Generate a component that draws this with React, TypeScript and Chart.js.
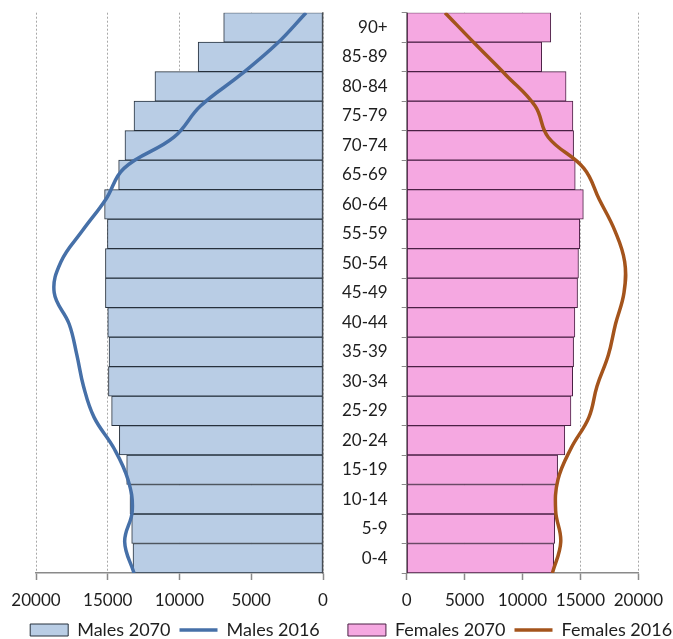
import React, { useEffect, useRef } from 'react';
import { Chart, registerables } from 'chart.js';

Chart.register(...registerables);

// ---- Data (bottom to top) ----
const ageGroups = ['0-4', '5-9', '10-14', '15-19', '20-24', '25-29', '30-34', '35-39', '40-44', '45-49', '50-54', '55-59', '60-64', '65-69', '70-74', '75-79', '80-84', '85-89', '90+'];
const males2070 = [13240, 13330, 13450, 13680, 14190, 14730, 14950, 14910, 15000, 15160, 15160, 15020, 15220, 14240, 13800, 13170, 11710, 8700, 6920];
const males2016 = [13170, 13820, 13290, 13590, 14560, 15950, 16690, 17150, 17690, 18730, 18260, 16760, 15140, 13870, 10390, 8540, 5760, 3220, 1180];
const females2070 = [12690, 12780, 12920, 13030, 13650, 14180, 14330, 14410, 14520, 14750, 14830, 14940, 15250, 14550, 14410, 14350, 13760, 11655, 12440];
const females2016 = [12580, 13300, 12860, 13060, 14180, 15730, 16430, 17410, 18030, 18760, 18820, 17970, 16630, 15300, 12220, 11090, 8560, 5900, 3310];
const seriesNames = ['Males 2070', 'Males 2016', 'Females 2070', 'Females 2016'];
const axisMin = 0;
const axisMax = 20000;
const axisStep = 5000;

// ---- Styles ----
const FONT = 'Lato';
const TEXT = '#1e1e1e';
const AXIS = '#8a8a8a';
const GRID = '#a8a8a8';
const MALE_FILL = '#b9cde5';
const MALE_EDGE = '#26303c';
const MALE_LINE = '#4670a8';
const FEMALE_FILL = '#f5a8e1';
const FEMALE_EDGE = '#4a2044';
const FEMALE_LINE = '#a4541c';

const CANVAS_H = 650;

function legendOptions() {
  return {
    position: 'bottom' as const,
    labels: {
      usePointStyle: true,
      pointStyleWidth: 38,
      boxHeight: 12,
      padding: 9,
      color: TEXT,
      font: { family: FONT, size: 18 },
      sort: (a: any, b: any) => a.datasetIndex - b.datasetIndex,
      generateLabels: (chart: any) =>
        Chart.defaults.plugins.legend.labels
          .generateLabels(chart)
          .map((item: any) => ({ ...item, pointStyle: item.datasetIndex === 0 ? 'rect' : 'line' })),
    },
  };
}

function xScale(reverse: boolean) {
  return {
    type: 'linear' as const,
    reverse,
    min: axisMin,
    max: axisMax,
    ticks: {
      stepSize: axisStep,
      color: TEXT,
      font: { family: FONT, size: 17 },
      padding: 10,
      maxRotation: 0,
      callback: (v: any) => String(v),
    },
    grid: { color: GRID, lineWidth: 1, tickLength: 7, tickColor: AXIS, tickWidth: 1.5 },
    border: { display: true, color: AXIS, width: 1.5, dash: [2, 2] },
    afterFit: (s: any) => {
      s.height = 39;
    },
  };
}

function makeConfig(side: 'left' | 'right') {
  const isLeft = side === 'left';
  const bars = isLeft ? males2070 : females2070;
  const line = isLeft ? males2016 : females2016;
  return {
    type: 'bar' as const,
    data: {
      labels: ageGroups,
      datasets: [
        {
          type: 'bar' as const,
          label: isLeft ? seriesNames[0] : seriesNames[2],
          data: bars,
          backgroundColor: isLeft ? MALE_FILL : FEMALE_FILL,
          borderColor: isLeft ? MALE_EDGE : FEMALE_EDGE,
          borderWidth: 1,
          borderSkipped: false,
          barPercentage: 1,
          categoryPercentage: 1,
          grouped: false,
          xAxisID: 'x',
          yAxisID: 'y',
          order: 2,
        },
        {
          type: 'line' as const,
          label: isLeft ? seriesNames[1] : seriesNames[3],
          data: line.map((v, i) => ({ x: v, y: i })),
          borderColor: isLeft ? MALE_LINE : FEMALE_LINE,
          backgroundColor: isLeft ? MALE_LINE : FEMALE_LINE,
          borderWidth: 3.5,
          pointRadius: 0,
          tension: 0.4,
          fill: false,
          indexAxis: 'y' as const,
          xAxisID: 'x',
          yAxisID: 'y2',
          order: 1,
        },
      ],
    },
    options: {
      indexAxis: 'y' as const,
      animation: false as const,
      responsive: false,
      layout: {
        padding: isLeft
          ? { left: 12, right: 2, top: 12.7, bottom: 1 }
          : { left: -8, right: -15, top: 12.7, bottom: 1 },
      },
      scales: {
        x: xScale(isLeft),
        y: isLeft
          ? {
              type: 'category' as const,
              position: 'right' as const,
              reverse: true,
              offset: true,
              ticks: { display: false },
              grid: { display: false, offset: true },
              border: { display: true, color: AXIS, width: 1.5 },
              afterFit: (s: any) => {
                s.width = 15;
                s.paddingTop = 0;
                s.paddingBottom = 0;
              },
            }
          : {
              type: 'category' as const,
              position: 'left' as const,
              reverse: true,
              offset: true,
              ticks: { color: TEXT, font: { family: FONT, size: 17 }, padding: 14 },
              grid: { display: true, drawOnChartArea: false, drawTicks: true, tickLength: 5, offset: true, color: AXIS, tickColor: AXIS, tickWidth: 1 },
              border: { display: true, color: AXIS, width: 1.5 },
              afterFit: (s: any) => {
                s.width = 74.7;
                s.paddingTop = 0;
                s.paddingBottom = 0;
              },
            },
        y2: {
          type: 'linear' as const,
          axis: 'y' as const,
          position: isLeft ? ('left' as const) : ('right' as const),
          min: 0,
          max: ageGroups.length - 1,
          offset: false,
          ticks: { display: false },
          grid: { display: false, offset: false },
          border: { display: false },
          afterFit: (s: any) => {
            s.width = isLeft ? 24 : 44;
            s.paddingTop = 0;
            s.paddingBottom = 0;
          },
        },
      },
      plugins: {
        legend: legendOptions(),
        tooltip: { enabled: false },
        title: { display: false },
      },
    },
  };
}

export default function App() {
  const leftRef = useRef<HTMLCanvasElement | null>(null);
  const rightRef = useRef<HTMLCanvasElement | null>(null);

  useEffect(() => {
    if (!leftRef.current || !rightRef.current) return;
    const left = new Chart(leftRef.current, makeConfig('left') as any);
    const right = new Chart(rightRef.current, makeConfig('right') as any);
    return () => {
      left.destroy();
      right.destroy();
    };
  }, []);

  return (
    <div
      style={{
        position: 'fixed',
        left: 0,
        top: 0,
        width: 673,
        height: 639,
        overflow: 'hidden',
        background: '#ffffff',
      }}
    >
      <canvas
        ref={leftRef}
        width={340}
        height={CANVAS_H}
        style={{ position: 'absolute', left: 0, top: 0, width: 340, height: CANVAS_H }}
      />
      <canvas
        ref={rightRef}
        width={333}
        height={CANVAS_H}
        style={{ position: 'absolute', left: 340, top: 0, width: 333, height: CANVAS_H }}
      />
    </div>
  );
}
